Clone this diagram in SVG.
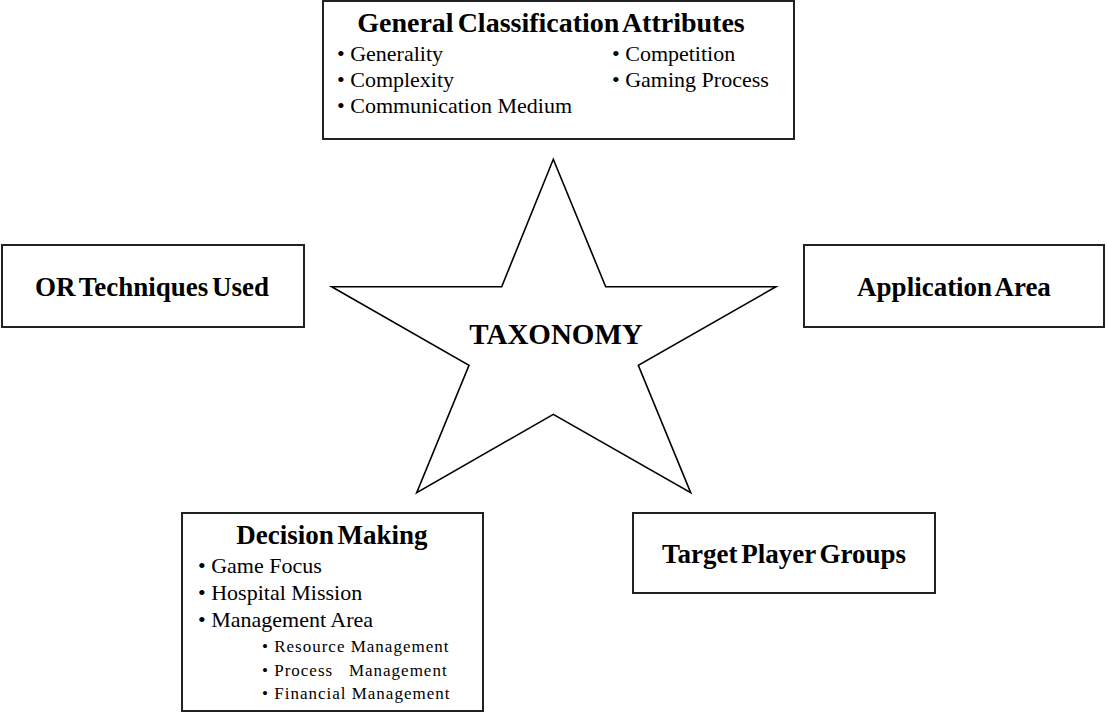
<svg xmlns="http://www.w3.org/2000/svg" width="1108" height="715" viewBox="0 0 1108 715">
  <style>
    .box { fill: #ffffff; stroke: #222222; stroke-width: 2; }
    .star { fill: #ffffff; stroke: #000000; stroke-width: 1.6; stroke-linejoin: miter; }
    .title { font-family: "Liberation Serif", "Times New Roman", serif; font-weight: bold; font-size: 27px; fill: #000; text-anchor: middle; word-spacing: -3px; }
    .item { font-family: "Liberation Serif", "Times New Roman", serif; font-size: 22px; fill: #000; }
    .sub { font-family: "Liberation Serif", "Times New Roman", serif; font-size: 17px; letter-spacing: 1px; fill: #000; white-space: pre; }
    .center { font-family: "Liberation Serif", "Times New Roman", serif; font-weight: bold; font-size: 29px; fill: #000; text-anchor: middle; }
  </style>
  <rect x="0" y="0" width="1108" height="715" fill="#ffffff"/>

  <g id="connectors"/>

  <g id="taxonomy">
    <polygon class="star" points="553.3,159.3 605.7,286.7 776,286.7 638.3,365.3 690.7,492.7 553.3,414.3 416.7,492.7 469,365.3 331.7,286.7 501.7,286.7"/>
    <text class="center" x="556" y="344">TAXONOMY</text>
  </g>

  <g id="general-classification">
    <rect class="box" x="323" y="1" width="471" height="138"/>
    <text class="title" x="551" y="32" style="font-size:28px">General Classification Attributes</text>
    <text class="item" x="337" y="61">• Generality</text>
    <text class="item" x="337" y="87">• Complexity</text>
    <text class="item" x="337" y="113">• Communication Medium</text>
    <text class="item" x="612" y="61">• Competition</text>
    <text class="item" x="612" y="87">• Gaming Process</text>
  </g>

  <g id="or-techniques">
    <rect class="box" x="2" y="245" width="302" height="82"/>
    <text class="title" x="152" y="296">OR Techniques Used</text>
  </g>

  <g id="application-area">
    <rect class="box" x="804" y="245" width="300" height="82"/>
    <text class="title" x="954" y="296">Application Area</text>
  </g>

  <g id="decision-making">
    <rect class="box" x="182" y="513" width="301" height="198"/>
    <text class="title" x="332" y="544">Decision Making</text>
    <text class="item" x="198" y="573">• Game Focus</text>
    <text class="item" x="198" y="600">• Hospital Mission</text>
    <text class="item" x="198" y="627">• Management Area</text>
    <text class="sub" x="262" y="652">• Resource Management</text>
    <text class="sub" x="262" y="676">• Process   Management</text>
    <text class="sub" x="262" y="699">• Financial Management</text>
  </g>

  <g id="target-player-groups">
    <rect class="box" x="633" y="513" width="302" height="80"/>
    <text class="title" x="784" y="563">Target Player Groups</text>
  </g>
</svg>
